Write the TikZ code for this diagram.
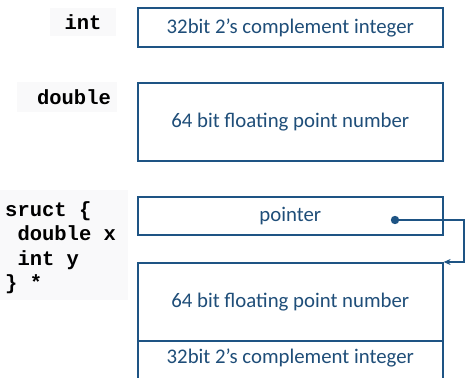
\documentclass[tikz,border=0pt]{standalone}
\usepackage{fontspec}
\usetikzlibrary{arrows.meta}
\setmainfont{Carlito}
\newfontfamily\codefont{Liberation Mono}
\definecolor{boxline}{RGB}{30,84,132}
\definecolor{boxtext}{RGB}{31,78,121}
\definecolor{codebg}{RGB}{249,249,250}
\newcommand\cellfont{\fontsize{20.8}{24}\selectfont}
\tikzset{
  cell/.style={draw=boxline, line width=1.6pt, fill=white, minimum width=305pt, inner sep=0pt, text=boxtext, font=\cellfont, anchor=north west},
  typelabel/.style={font=\codefont\bfseries\fontsize{20.5}{24}\selectfont, text=black, fill=codebg, inner sep=0pt},
  link/.style={draw=boxline, line width=1.3pt},
}
\begin{document}
\begin{tikzpicture}[x=1pt, y=-1pt]
  \useasboundingbox (0,0) rectangle (465,377);
  % type labels
  \fill[codebg] (50,8) rectangle (116,36);
  \node[typelabel, anchor=base] (lint) at (83,30) {int};
  \fill[codebg] (17,82) rectangle (117,112);
  \node[typelabel, anchor=base] (ldouble) at (74,105) {double};
  \fill[codebg] (0,190) rectangle (128,300);
  \node[typelabel, anchor=north west, align=left, font=\codefont\bfseries\fontsize{20.5}{24.5}\selectfont] (lstruct) at (5,201)
    {sruct \{\\\ double x\\\ int y\\\} *};
  % memory cells
  \node[cell, minimum height=39pt] (int) at (137,7.5) {32bit 2’s complement integer};
  \node[cell, minimum height=78pt] (dbl) at (137,82) {64 bit floating point number};
  \node[cell, minimum height=38pt] (ptr) at (137,196) {pointer};
  \node[cell, minimum height=78pt] (sdbl) at (137,262) {64 bit floating point number};
  \node[cell, minimum height=60pt] (sint) at (137,340) {};
  \node[text=boxtext, font=\cellfont, anchor=center] (sinttext) at (sint.center |- 0,358) {32bit 2’s complement integer};
  % pointer link
  \coordinate (dot) at (395,220);
  \coordinate (c1) at (464,220);
  \coordinate (c2) at (464,262);
  \fill[boxline] (dot) circle (4.2pt);
  \draw[link, -{Stealth[length=7pt,width=6pt]}] (dot) -- (c1) -- (c2) -- (sdbl.north east);
\end{tikzpicture}
\end{document}
